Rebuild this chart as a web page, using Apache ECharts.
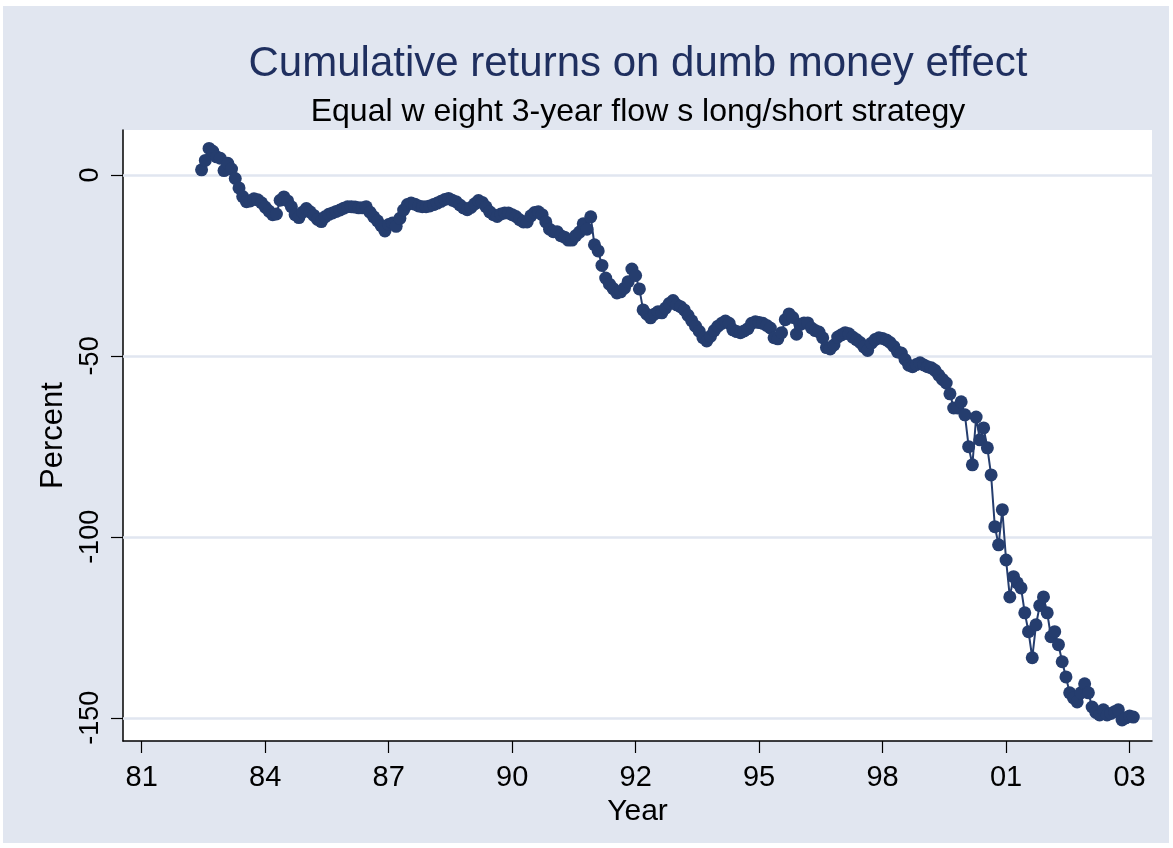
<!DOCTYPE html>
<html>
<head>
<meta charset="utf-8">
<title>Cumulative returns on dumb money effect</title>
<script src="https://cdn.jsdelivr.net/npm/echarts@6/dist/echarts.min.js"></script>
<style>
    html, body { margin: 0; padding: 0; background: #ffffff; }
    #dumbChart { position: absolute; left: 3px; top: 6px; width: 1166px; height: 837px; }
</style>
</head>
<body>
<div id="dumbChart"></div>
<script>
// months counted from Jan 1981; first observation is month 16
var firstMonth = 16;

// cumulative return (percent), one value per month
var returns = [
    1.4, 4.0, 7.3, 6.5, 5.0, 4.6, 1.2, 3.2, 1.6, -1.0,
    -3.6, -6.0, -7.4, -7.2, -6.6, -6.9, -7.7, -8.9, -10.0, -11.0,
    -10.8, -7.0, -6.1, -7.2, -8.8, -11.0, -11.8, -10.3, -9.3, -10.2,
    -11.2, -12.3, -12.9, -11.6, -10.9, -10.5, -10.1, -9.7, -9.2, -8.8,
    -8.8, -8.9, -9.1, -9.1, -8.8, -10.3, -11.6, -12.7, -14.0, -15.5,
    -13.7, -13.3, -14.2, -12.0, -9.7, -8.2, -7.8, -8.1, -8.6, -8.8,
    -8.8, -8.6, -8.2, -7.8, -7.3, -6.8, -6.5, -7.0, -7.4, -8.3,
    -9.1, -9.6, -9.0, -8.0, -7.1, -7.6, -8.8, -10.2, -11.0, -11.5,
    -10.8, -10.5, -10.5, -11.0, -11.5, -12.4, -13.0, -13.0, -11.3, -10.4,
    -10.2, -11.0, -13.0, -15.0, -15.7, -15.7, -16.8, -17.2, -18.0, -18.0,
    -16.8, -15.8, -13.5, -15.0, -11.6, -19.3, -21.0, -25.0, -28.5, -30.2,
    -31.4, -32.6, -32.3, -31.3, -29.5, -26.0, -27.8, -31.5, -37.3, -38.5,
    -39.5, -38.5, -37.8, -38.1, -36.8, -35.5, -34.7, -35.9, -36.4, -37.3,
    -38.8, -40.3, -41.8, -43.2, -45.0, -45.9, -44.6, -43.0, -41.8, -41.0,
    -40.4, -41.0, -42.8, -43.3, -43.6, -43.1, -42.5, -41.0, -40.6, -40.8,
    -41.0, -41.6, -42.3, -45.0, -45.3, -43.6, -40.0, -38.4, -39.4, -44.0,
    -41.3, -40.9, -40.9, -42.3, -43.0, -43.4, -45.0, -47.7, -48.1, -47.0,
    -44.8, -44.2, -43.6, -43.9, -44.8, -45.5, -46.3, -47.5, -48.5, -46.5,
    -45.5, -45.0, -45.2, -45.6, -46.3, -47.4, -48.9, -49.2, -51.0, -52.6,
    -53.0, -52.4, -51.9, -52.5, -53.0, -53.3, -54.0, -55.3, -56.5, -57.5,
    -60.5, -64.4, -64.4, -62.7, -66.3, -75.1, -80.1, -66.9, -73.2, -69.9,
    -75.4, -82.9, -97.2, -102.2, -92.5, -106.4, -116.6, -111.0, -112.7, -114.1,
    -121.0, -126.2, -133.4, -124.3, -119.0, -116.6, -121.0, -127.6, -126.2, -129.8,
    -134.5, -138.7, -143.1, -144.5, -145.6, -143.1, -140.6, -143.1, -147.0, -148.5,
    -149.2, -147.8, -149.2, -148.8, -148.3, -147.8, -150.6, -150.0, -149.5, -149.8
];

// x ticks (months since Jan 1981) and their labels
var xTicks = [0, 33, 66, 99, 132, 165, 198, 231, 264];
var xTickLabels = ['81', '84', '87', '90', '92', '95', '98', '01', '03'];

// y ticks
var yTicks = [-150, -100, -50, 0];

var navy = '#253d6e';
var font = 'Liberation Sans';

var myChart = echarts.init(document.getElementById('dumbChart'));

var points = returns.map(function (v, i) {
    return [firstMonth + i, v];
});

var option = {
    animation: false,
    backgroundColor: '#e1e6f0',
    title: [
        {
            text: 'Cumulative returns on dumb money effect',
            left: 635,
            top: 37,
            textAlign: 'center',
            padding: 0,
            textStyle: { color: '#1f2f5f', fontFamily: font, fontSize: 42, fontWeight: 'normal' }
        },
        {
            text: 'Equal w eight 3-year flow s long/short strategy',
            left: 635,
            top: 90,
            textAlign: 'center',
            padding: 0,
            textStyle: { color: '#000000', fontFamily: font, fontSize: 32, fontWeight: 'normal' }
        }
    ],
    grid: {
        left: 120,
        top: 124,
        right: 17,
        bottom: 102,
        show: true,
        backgroundColor: '#ffffff',
        borderWidth: 0
    },
    xAxis: {
        type: 'value',
        min: -5,
        max: 270,
        name: 'Year',
        nameLocation: 'middle',
        nameGap: 45,
        nameTextStyle: { color: '#000', fontFamily: font, fontSize: 30 },
        axisLine: { onZero: false, lineStyle: { color: '#000', width: 1.5 } },
        axisTick: { customValues: xTicks, length: 12, lineStyle: { color: '#000', width: 1.2 } },
        axisLabel: {
            customValues: xTicks,
            margin: 22,
            color: '#000',
            fontFamily: font,
            fontSize: 29,
            formatter: function (v) {
                var k = xTicks.indexOf(v);
                return k >= 0 ? xTickLabels[k] : '';
            }
        },
        splitLine: { show: false }
    },
    yAxis: {
        type: 'value',
        min: -156.4,
        max: 12.4,
        name: 'Percent',
        nameLocation: 'middle',
        nameGap: 52,
        nameTextStyle: { color: '#000', fontFamily: font, fontSize: 31 },
        axisLine: { show: true, onZero: false, lineStyle: { color: '#000', width: 1.5 } },
        axisTick: { show: true, customValues: yTicks, length: 12, lineStyle: { color: '#000', width: 1.2 } },
        axisLabel: {
            customValues: yTicks,
            rotate: 90,
            margin: 19,
            color: '#000',
            fontFamily: font,
            fontSize: 27
        },
        splitLine: { show: false }
    },
    series: [
        {
            // horizontal grid lines at the y ticks
            name: 'grid',
            type: 'line',
            data: [],
            z: 1,
            silent: true,
            markLine: {
                z: 1,
                silent: true,
                symbol: ['none', 'none'],
                label: { show: false },
                lineStyle: { color: '#e1e6f0', width: 2.5, type: 'solid' },
                data: yTicks.map(function (v) { return { yAxis: v }; })
            }
        },
        {
            name: 'Cumulative return',
            type: 'line',
            z: 3,
            data: points,
            showSymbol: true,
            symbol: 'circle',
            symbolSize: 13,
            itemStyle: { color: navy },
            lineStyle: { color: navy, width: 2 }
        }
    ]
};

myChart.setOption(option);
</script>
</body>
</html>
